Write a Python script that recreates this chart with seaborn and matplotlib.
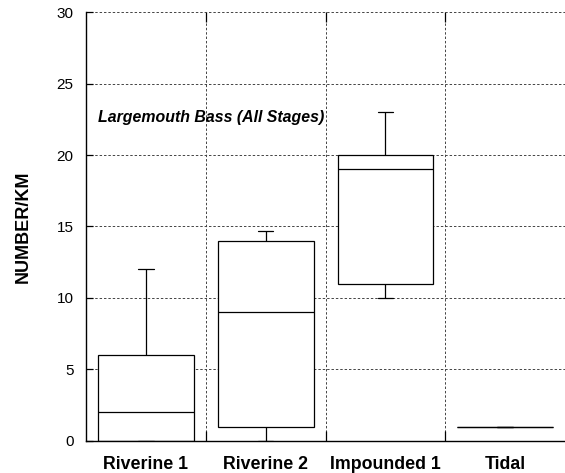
import numpy as np
import pandas as pd
import matplotlib
matplotlib.use("Agg")
import matplotlib.pyplot as plt
import seaborn as sns

# Data: five-number summaries per site (min, Q1, median, Q3, max)
categories = ["Riverine 1", "Riverine 2", "Impounded 1", "Tidal"]
riverine1 = [0, 0, 2, 6, 12]
riverine2 = [0, 1, 9, 14, 14.7]
impounded1 = [10, 11, 19, 20, 23]
tidal = [1, 1, 1, 1, 1]
yticks = [0, 5, 10, 15, 20, 25, 30]

series = [riverine1, riverine2, impounded1, tidal]
df = pd.DataFrame({
    "site": np.repeat(categories, [len(s) for s in series]),
    "value": np.concatenate(series),
})

sns.set_theme(style="white")
plt.rcParams["font.family"] = ["Liberation Sans", "DejaVu Sans"]
plt.rcParams["text.color"] = "black"
plt.rcParams["axes.labelcolor"] = "black"
plt.rcParams["xtick.color"] = "black"
plt.rcParams["ytick.color"] = "black"

fig = plt.figure(figsize=(5.65, 4.73), dpi=100)
ax = fig.add_axes([0.1522, 0.0677, 0.848, 0.9069])

sns.boxplot(data=df, x="site", y="value", order=categories, ax=ax,
            whis=(0, 100), width=0.8, fill=True, color="white",
            linecolor="black", linewidth=0.9, showfliers=False,
            capwidths=0.13)
for p in ax.patches:
    p.set_facecolor("white")
    p.set_edgecolor("black")

ax.set_xlim(-0.5, 3.5)
ax.set_ylim(0, 30)
ax.set_yticks(yticks)
ax.set_yticklabels([str(t) for t in yticks], fontsize=11)
ax.set_xticks(range(len(categories)))
ax.set_xticklabels(categories, fontsize=12.8, fontweight="bold")
ax.set_xticks([0.5, 1.5, 2.5], minor=True)
ax.tick_params(axis="x", which="major", length=0, pad=10.5)
ax.tick_params(axis="x", which="minor", direction="in", length=7,
               width=0.9, color="black", top=True, bottom=True)
ax.tick_params(axis="y", which="major", direction="in", length=5,
               width=0.9, color="black", pad=9, left=True)

ax.set_xlabel("")
ax.set_ylabel("NUMBER/KM", fontsize=13, fontweight="bold", labelpad=18)

ax.grid(False)
ax.yaxis.grid(True, which="major", linestyle=(0, (2.5, 2)), color="#444444", linewidth=0.7)
ax.xaxis.grid(True, which="minor", linestyle=(0, (2.5, 2)), color="#444444", linewidth=0.7)
ax.set_axisbelow(True)

for s in ["top", "right"]:
    ax.spines[s].set_visible(False)
for s in ["left", "bottom"]:
    ax.spines[s].set_color("black")
    ax.spines[s].set_linewidth(1.0)

ax.text(-0.4, 22.6, "Largemouth Bass (All Stages)", fontsize=11.4,
        fontweight="bold", fontstyle="italic", ha="left", va="center")

fig.savefig("out.png", dpi=100)
